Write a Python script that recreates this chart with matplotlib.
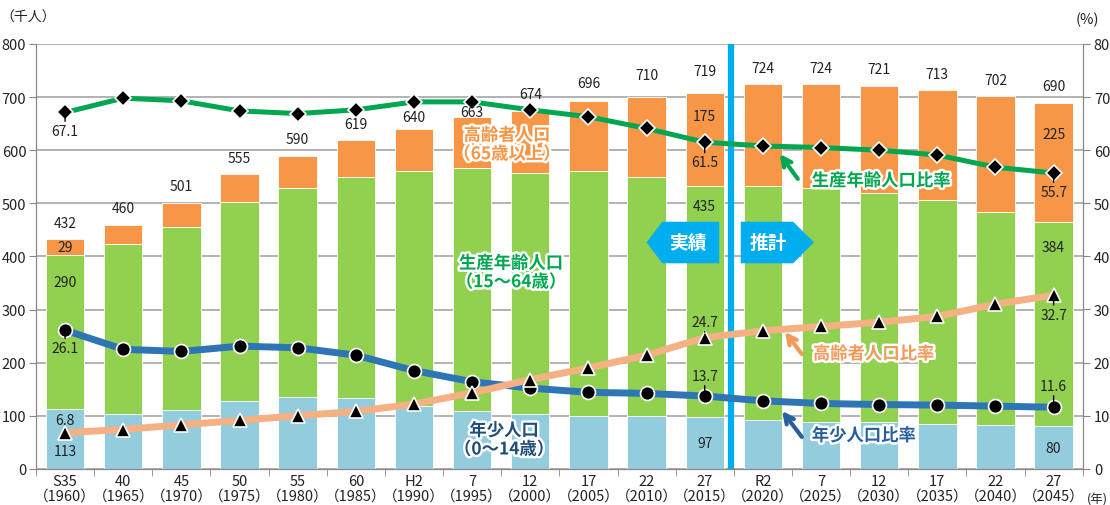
import matplotlib
matplotlib.use('Agg')
import matplotlib.pyplot as plt
import matplotlib.patheffects as pe
from matplotlib.patches import Polygon
import numpy as np

plt.rcParams['font.family'] = ['Noto Sans CJK JP', 'DejaVu Sans']

# data
era = ['S35', '40', '45', '50', '55', '60', 'H2', '7', '12', '17', '22', '27',
       'R2', '7', '12', '17', '22', '27']
year = [1960, 1965, 1970, 1975, 1980, 1985, 1990, 1995, 2000, 2005, 2010, 2015,
        2020, 2025, 2030, 2035, 2040, 2045]
young = [113, 103, 110, 128, 135, 133, 119, 108, 103, 100, 100, 97,
         92, 89, 88, 84, 83, 80]
working = [290, 320, 346, 375, 394, 417, 442, 458, 455, 460, 449, 435,
           440, 439, 431, 422, 400, 384]
elderly = [29, 37, 45, 52, 61, 69, 79, 97, 115, 133, 151, 175,
           192, 196, 202, 207, 219, 225]
totals = [432, 460, 501, 555, 590, 619, 640, 663, 674, 696, 710, 719,
          724, 724, 721, 713, 702, 690]
working_ratio = [67.1, 69.8, 69.3, 67.4, 66.9, 67.6, 69.1, 69.1, 67.6, 66.3, 64.1, 61.5,
                 60.8, 60.5, 60.0, 59.1, 56.8, 55.7]
young_ratio = [26.1, 22.5, 22.1, 23.1, 22.8, 21.4, 18.5, 16.4, 15.2, 14.4, 14.2, 13.7,
               12.8, 12.3, 12.1, 12.0, 11.8, 11.6]
elderly_ratio = [6.8, 7.4, 8.3, 9.1, 10.0, 10.8, 12.2, 14.3, 16.8, 19.0, 21.4, 24.7,
                 26.0, 26.8, 27.6, 28.7, 31.0, 32.7]

c_young = '#93cddd'
c_work = '#92d050'
c_old = '#f79646'
c_wline = '#00a650'
c_yline = '#2e75b6'
c_oline = '#f5b084'
c_div = '#00aeef'
grid_c = '#a6a6a6'
txt_c = '#222222'

fig = plt.figure(figsize=(11.1, 5.06), dpi=100)
ax = fig.add_axes([36 / 1110, 1 - 469.8 / 506, 1046.7 / 1110, 424.8 / 506])
x = np.arange(len(era))
w = 0.66

young = np.array(young)
working = np.array(working)
elderly = np.array(elderly)

ax.bar(x, young, w, color=c_young, edgecolor='white', linewidth=0.6, zorder=2)
ax.bar(x, working, w, bottom=young, color=c_work, edgecolor='white', linewidth=0.6, zorder=2)
ax.bar(x, elderly, w, bottom=young + working, color=c_old, edgecolor='white', linewidth=0.6, zorder=2)

ax.set_xlim(-0.5, 17.5)
ax.set_ylim(0, 800)
ax.set_yticks(range(0, 801, 100))
ax.yaxis.grid(True, color=grid_c, lw=1.2)
ax.set_axisbelow(True)
ax.set_xticks(x)
ax.set_xticklabels([f'{e}\n（{y}）' for e, y in zip(era, year)], fontsize=10.5, color=txt_c,
                   linespacing=1.05)
ax.set_xticks(np.arange(-0.5, 18, 1), minor=True)
ax.tick_params(axis='x', which='major', length=0, pad=4)
ax.tick_params(axis='x', which='minor', length=5, color='#888888')
ax.tick_params(axis='y', length=5, color='#888888', labelsize=10.5, labelcolor=txt_c, pad=2)
ax.spines['top'].set_visible(False)
for s in ['left', 'right', 'bottom']:
    ax.spines[s].set_color('#888888')

ax2 = ax.twinx()
ax2.set_ylim(0, 80)
ax2.set_yticks(range(0, 81, 10))
ax2.tick_params(axis='y', length=5, color='#888888', labelsize=10.5, labelcolor=txt_c, pad=3)
ax2.spines['top'].set_visible(False)
for s in ['left', 'right', 'bottom']:
    ax2.spines[s].set_color('#888888')

t = ax.transData
outline = [pe.withStroke(linewidth=3.5, foreground='white')]

# divider and boxes
ax2.axvline(11.45, color=c_div, lw=4.5, zorder=3)
box1 = Polygon([(10.0, 426.5), (10.27, 465.3), (11.25, 465.3), (11.25, 387), (10.27, 387)],
               closed=True, facecolor=c_div, edgecolor='none', transform=t, zorder=5)
box2 = Polygon([(11.62, 465.3), (12.52, 465.3), (12.88, 426.5), (12.52, 387), (11.62, 387)],
               closed=True, facecolor=c_div, edgecolor='none', transform=t, zorder=5)
ax2.add_patch(box1)
ax2.add_patch(box2)
ax2.text(10.72, 426.5, '実績', transform=t, color='white', fontsize=13.5, fontweight='bold',
         ha='center', va='center', zorder=6)
ax2.text(12.1, 426.5, '推計', transform=t, color='white', fontsize=13.5, fontweight='bold',
         ha='center', va='center', zorder=6)

# ratio lines
ax2.plot(x, working_ratio, color=c_wline, lw=3.6, marker='D', ms=8, mfc='black',
         mec='white', mew=1.2, zorder=7)
ax2.plot(x, young_ratio, color=c_yline, lw=5, marker='o', ms=10, mfc='black',
         mec='white', mew=1.2, zorder=7)
ax2.plot(x, elderly_ratio, color=c_oline, lw=5, marker='^', ms=10, mfc='black',
         mec='white', mew=1.2, zorder=8)

# total labels
for i, v in enumerate(totals):
    off = 31
    if i == 6:
        off = 22
    elif i == 7:
        off = 9
    ax2.text(i, v + off, str(v), transform=t, ha='center', va='center', fontsize=10,
             color=txt_c, zorder=9)

# segment labels
seg_pos = {0: (418, 352, 34), 11: (664, 494, 49), 17: (630, 417, 39)}
for i, (yo, yw, yy) in seg_pos.items():
    for val, yp in [(elderly[i], yo), (working[i], yw), (young[i], yy)]:
        ax2.text(i, yp, str(val), transform=t, ha='center', va='center', fontsize=10,
                 color=txt_c, zorder=9)

# ratio labels
for series, offs in [(working_ratio, {0: -3.5, 11: -3.8, 17: -3.6}),
                     (young_ratio, {0: -3.4, 11: 3.8, 17: 4.0}),
                     (elderly_ratio, {0: 2.3, 11: 3.0, 17: -3.7})]:
    for i, o in offs.items():
        v = series[i]
        ax2.annotate(f'{v:.1f}', xy=(i, v), xytext=(i, v + o), ha='center', va='center',
                     fontsize=10, color=txt_c, zorder=9,
                     arrowprops=dict(arrowstyle='-', color='black', lw=1,
                                     shrinkA=0, shrinkB=4))

# category labels
ax2.text(7.6, 610, '高齢者人口\n（65歳以上）', transform=t, ha='center', va='center',
         fontsize=12.5, fontweight='bold', color='#f79646', linespacing=1.05,
         path_effects=outline, zorder=9)
ax2.text(7.67, 369, '生産年齢人口\n（15〜64歳）', transform=t, ha='center', va='center',
         fontsize=12.5, fontweight='bold', color='#00a650', linespacing=1.05,
         path_effects=outline, zorder=9)
ax2.text(7.55, 54, '年少人口\n（0〜14歳）', transform=t, ha='center', va='center',
         fontsize=12.5, fontweight='bold', color='#1f4e79', linespacing=1.05,
         path_effects=outline, zorder=9)

# ratio line labels with arrows
for txt, col, tx, ty, ax0, ay0, ax1, ay1 in [
        ('生産年齢人口比率', c_wline, 12.84, 54.2, 12.6, 54.6, 12.29, 59.3),
        ('高齢者人口比率', '#f39a5a', 12.86, 21.6, 12.67, 21.6, 12.38, 25.8),
        ('年少人口比率', '#2a5f9e', 12.84, 6.2, 12.67, 6.0, 12.33, 10.9)]:
    ax2.text(tx, ty, txt, ha='left', va='center', fontsize=12.5, fontweight='bold', color=col,
             path_effects=outline, zorder=9)
    ax2.annotate('', xy=(ax1, ay1), xytext=(ax0, ay0), zorder=9,
                 arrowprops=dict(arrowstyle='->', color=col, lw=3, mutation_scale=16,
                                 shrinkA=0, shrinkB=0))

# unit labels
fig.text(28 / 1110, 1 - 18 / 506, '（千人）', ha='center', va='center', fontsize=10, color=txt_c)
fig.text(1087 / 1110, 1 - 20 / 506, '(%)', ha='center', va='center', fontsize=10.5, color=txt_c)
fig.text(1108 / 1110, 1 - 500 / 506, '(年)', ha='right', va='center', fontsize=9, color=txt_c)

fig.savefig('out.png', dpi=100)
